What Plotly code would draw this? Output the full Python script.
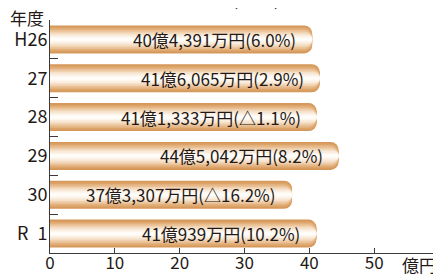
import plotly.graph_objects as go

years = ["H26", "27", "28", "29", "30", "R\u20021"]
values = [40.4391, 41.6065, 41.1333, 44.5042, 37.3307, 41.0939]
labels = ["40億4,391万円(6.0%)", "41億6,065万円(2.9%)", "41億1,333万円(△1.1%)",
          "44億5,042万円(8.2%)", "37億3,307万円(△16.2%)", "41億939万円(10.2%)"]
x_ticks = [0, 10, 20, 30, 40, 50, 60]
x_ticktext = ["0", "10", "20", "30", "40", "50", ""]

FONT = "Noto Sans CJK JP"
TXT = "#231815"
AX = "#3e3a39"

# layered bars to imitate the cylindrical gradient
layers = [
    (0.72, "#d6975a"),
    (0.64, "#dca368"),
    (0.56, "#e3b17e"),
    (0.48, "#eac196"),
    (0.40, "#f0d1b0"),
    (0.32, "#f5e0c9"),
    (0.24, "#f9ecdd"),
    (0.15, "#fdf6ee"),
    (0.07, "#fffdf9"),
]

fig = go.Figure()
for w, c in layers:
    fig.add_trace(go.Bar(
        x=values, y=years, orientation="h", width=w,
        marker=dict(color=c, line=dict(width=0)),
        hoverinfo="skip", showlegend=False,
    ))

for i, (v, t) in enumerate(zip(values, labels)):
    fig.add_annotation(x=v, y=i, text=t, xanchor="right", yanchor="middle",
                       xshift=-14, showarrow=False,
                       font=dict(family=FONT, size=17, color=TXT))

fig.add_annotation(xref="paper", yref="paper", x=-0.06, y=1.012, text="年度",
                   showarrow=False, xanchor="center", yanchor="middle",
                   font=dict(family=FONT, size=17, color=TXT))
fig.add_annotation(xref="paper", yref="paper", x=1.0, y=-0.05, text="億円",
                   showarrow=False, xanchor="right", yanchor="middle",
                   xshift=-1,
                   font=dict(family=FONT, size=17, color=TXT))
fig.add_annotation(xref="paper", yref="paper", x=0.463, y=1.03,
                   text="(　　)内は対前年度比",
                   showarrow=False, xanchor="left", yanchor="bottom",
                   font=dict(family=FONT, size=18, color=TXT))

fig.update_layout(
    width=441, height=274,
    margin=dict(l=42, r=10, t=12, b=29),
    paper_bgcolor="white", plot_bgcolor="white",
    barmode="overlay", barcornerradius=8,
    xaxis=dict(range=[0, 60], tickvals=x_ticks, ticktext=x_ticktext,
               automargin=False,
               showgrid=False, zeroline=False, showline=True, linecolor=AX,
               linewidth=1, ticks="inside", ticklen=5, tickcolor=AX,
               ticklabelstandoff=-5,
               tickfont=dict(family=FONT, size=17, color=TXT)),
    yaxis=dict(type="category", categoryorder="array", categoryarray=years,
               range=[5.5, -0.5], tickson="boundaries", automargin=False,
               showgrid=False, zeroline=False, showline=True, linecolor=AX,
               linewidth=1, ticks="inside", ticklen=8, tickcolor=AX,
               ticklabelstandoff=-2,
               tickfont=dict(family=FONT, size=18, color=TXT)),
)

fig.write_html("out.html")
